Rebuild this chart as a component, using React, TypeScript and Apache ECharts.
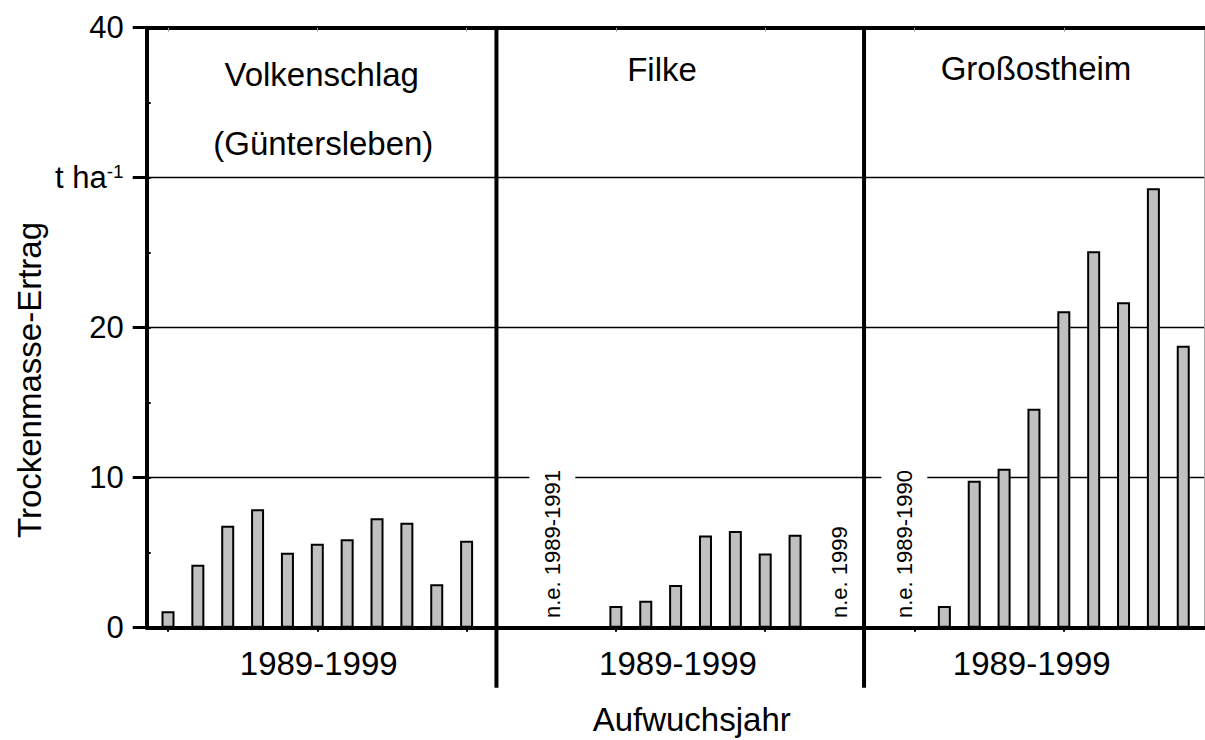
import React, { useEffect, useRef } from "react";
import * as echarts from "echarts";

// ---- data ----
const years = [1989, 1990, 1991, 1992, 1993, 1994, 1995, 1996, 1997, 1998, 1999];
const volkenschlag = [1.1, 4.2, 6.8, 7.9, 5.0, 5.6, 5.9, 7.3, 7.0, 2.9, 5.8];
const filke = [null, null, null, 1.45, 1.8, 2.85, 6.15, 6.45, 4.95, 6.2, null];
const grossostheim = [null, null, 1.45, 9.8, 10.6, 14.6, 21.1, 25.1, 21.7, 29.3, 18.8];
const panelNames = ["Volkenschlag", "Filke", "Großostheim"];
const panelSubNames = ["(Güntersleben)", "", ""];
const panelRangeLabels = ["1989-1999", "1989-1999", "1989-1999"];
const notSampled = ["", "n.e. 1989-1991", "n.e. 1989-1990"];
const notSampledEnd = ["", "n.e. 1999", ""];
const yTicks = [0, 10, 20, 30, 40];
const yTickLabels = ["0", "10", "20", "{u|t ha}{s|-1}", "40"];
const yTitle = "Trockenmasse-Ertrag";
const xTitle = "Aufwuchsjahr";

// layout: slot offset of each panel on a continuous x scale
const panelOffsets = [0, 12, 24];
const dividers = [11, 23.31];
const xTickSlots = [0, 5, 10, 15, 20, 25, 30];

const FONT = "'Liberation Sans', Arial, Helvetica, sans-serif";

export default function App() {
  const ref = useRef<HTMLDivElement>(null);
  useEffect(() => {
    if (!ref.current) return;
    const chart = echarts.init(ref.current, null, { renderer: "svg" });
    const panels = [volkenschlag, filke, grossostheim];
    const barData: any[] = [];
    panels.forEach((vals, p) => {
      vals.forEach((v, i) => {
        if (v !== null && v !== undefined) barData.push([panelOffsets[p] + i, v, years[i]]);
      });
    });

    const xMin = -0.713;
    const xMax = 34.705;

    const textEl = (text: string, x: number, y: number, size: number, extra: any = {}) => ({
      type: "text",
      x,
      y,
      z: 100,
      ...extra,
      style: {
        text,
        font: `${size}px ${FONT}`,
        fill: "#000",
        align: "center",
        verticalAlign: "middle",
        textAlign: "center",
        textVerticalAlign: "middle",
        ...(extra.style || {}),
      },
    });

    const graphic: any[] = [
      textEl(panelNames[0], 321.7, 74.7, 33),
      textEl(panelSubNames[0], 323.3, 143.4, 33),
      textEl(panelNames[1], 662, 69.7, 33),
      textEl(panelNames[2], 1036, 68.3, 33),
      textEl(panelRangeLabels[0], 318.7, 663.4, 33),
      textEl(panelRangeLabels[1], 678, 663.4, 33),
      textEl(panelRangeLabels[2], 1031.7, 663.4, 33),
      textEl(xTitle, 691.7, 719, 33),
      textEl(yTitle, 29, 380, 33, { rotation: Math.PI / 2 }),
      textEl(notSampled[1], 552.3, 622, 22, {
        rotation: Math.PI / 2,
        style: { align: "left", textAlign: "left", backgroundColor: "#fff", padding: [12, 4, 12, 4] },
      }),
      textEl(notSampled[2], 904.3, 622, 22, {
        rotation: Math.PI / 2,
        style: { align: "left", textAlign: "left", backgroundColor: "#fff", padding: [12, 4, 12, 4] },
      }),
      textEl(notSampledEnd[1], 839.3, 618, 22, {
        rotation: Math.PI / 2,
        style: { align: "left", textAlign: "left" },
      }),
    ];

    const option: any = {
      animation: false,
      backgroundColor: "#fff",
      grid: { left: 146.7, right: 0.7, top: 27.7, bottom: 112.3, containLabel: false },
      xAxis: [
        {
          type: "value",
          min: xMin,
          max: xMax,
          position: "bottom",
          axisLine: { show: true, onZero: false, lineStyle: { color: "#000", width: 4 } },
          axisTick: { show: true, customValues: xTickSlots, length: 4, lineStyle: { color: "#000", width: 2 } },
          axisLabel: { show: false },
          splitLine: { show: false },
        },
        {
          type: "value",
          min: xMin,
          max: xMax,
          position: "top",
          axisLine: { show: true, onZero: false, lineStyle: { color: "#000", width: 4 } },
          axisTick: { show: true, inside: true, customValues: xTickSlots, length: 4, lineStyle: { color: "#999", width: 1 } },
          axisLabel: { show: false },
          splitLine: { show: false },
        },
      ],
      yAxis: [
        {
          type: "value",
          min: 0,
          max: 40,
          interval: 10,
          position: "left",
          axisLine: { show: true, onZero: false, lineStyle: { color: "#000", width: 4 } },
          axisTick: { show: true, length: 14, lineStyle: { color: "#000", width: 3 } },
          axisLabel: {
            margin: 23,
            color: "#000",
            fontSize: 31,
            fontFamily: FONT,
            formatter: (v: number) => yTickLabels[yTicks.indexOf(v)] ?? String(v),
            rich: {
              u: { fontSize: 31, fontFamily: FONT, color: "#000" },
              s: { fontSize: 19, fontFamily: FONT, color: "#000", verticalAlign: "top", padding: [0, 0, 6, 0] },
            },
          },
          splitLine: { show: true, lineStyle: { color: "#000", width: 1.4 } },
        },
        {
          type: "value",
          min: 0,
          max: 40,
          interval: 5,
          position: "left",
          axisLine: { show: false, onZero: false },
          axisTick: { show: true, inside: true, length: 4, lineStyle: { color: "#000", width: 2 } },
          axisLabel: { show: false },
          splitLine: { show: false },
        },
        {
          type: "value",
          min: 0,
          max: 40,
          position: "right",
          axisLine: { show: true, onZero: false, lineStyle: { color: "#aaa", width: 1 } },
          axisTick: { show: false },
          axisLabel: { show: false },
          splitLine: { show: false },
        },
      ],
      series: [
        {
          type: "bar",
          xAxisIndex: 0,
          yAxisIndex: 0,
          barWidth: 13,
          data: barData,
          itemStyle: { color: "#c0c0c0", borderColor: "#000", borderWidth: 2 },
          z: 3,
        },
        {
          type: "custom",
          xAxisIndex: 0,
          yAxisIndex: 0,
          clip: false,
          z: 5,
          data: dividers.map((d) => [d, 0]),
          renderItem: (params: any, api: any) => {
            const x = api.value(0);
            const top = api.coord([x, 40]);
            const bot = api.coord([x, 0]);
            return {
              type: "line",
              shape: { x1: top[0], y1: top[1], x2: bot[0], y2: bot[1] + 60 },
              style: { stroke: "#000", lineWidth: 4 },
            };
          },
        },
      ],
      graphic,
    };
    chart.setOption(option);
    return () => chart.dispose();
  }, []);
  return (
    <div
      ref={ref}
      style={{ position: "absolute", left: 0, top: 0, width: 1205, height: 740, background: "#fff" }}
    />
  );
}
